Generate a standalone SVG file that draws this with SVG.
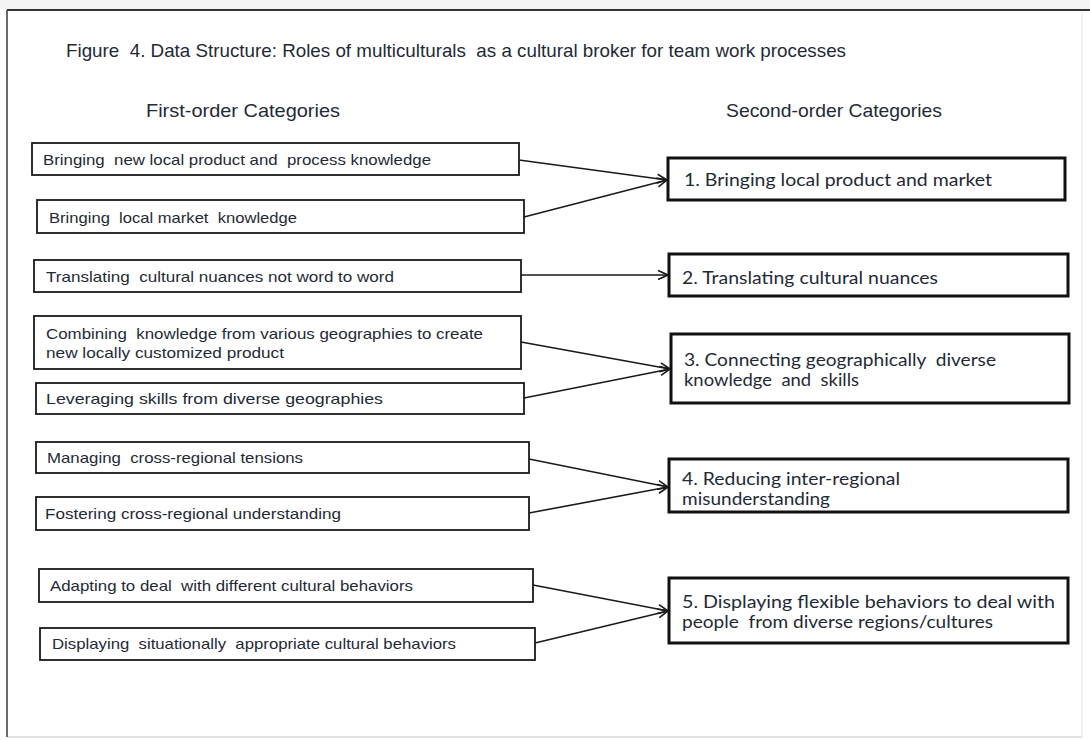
<svg xmlns="http://www.w3.org/2000/svg" width="1090" height="740" viewBox="0 0 1090 740">
<style>
.ttl{font-family:"Liberation Sans",Arial,sans-serif;font-size:19px;fill:#1f2a36;white-space:pre}
.lt{font-family:"Liberation Sans",Arial,sans-serif;font-size:15px;fill:#1f2a36;white-space:pre}
.rt{font-family:Lato,"Liberation Sans",sans-serif;font-size:16.5px;fill:#1f2a36;white-space:pre}
.lb{fill:#fff;stroke:#1a1a1a;stroke-width:1.8}
.rb{fill:#fff;stroke:#111;stroke-width:3}
.cn{fill:none;stroke:#1a1a1a;stroke-width:1.6}
</style>
<defs>
<marker id="ah" markerUnits="userSpaceOnUse" markerWidth="12" markerHeight="12" viewBox="0 0 12 12" refX="11" refY="6" orient="auto">
<path d="M1,1.5 L11,6 L1,10.5" fill="none" stroke="#1a1a1a" stroke-width="1.6"/>
</marker>
</defs>
<rect x="0" y="0" width="1090" height="740" fill="#fff"/>
<rect x="0" y="0" width="1090" height="9" fill="#f3f3f3"/>
<g id="frame">
<line x1="1082" y1="11" x2="1082" y2="737" stroke="#eeeeee" stroke-width="1.5"/>
<line x1="7" y1="737" x2="1082" y2="737" stroke="#e4e4e4" stroke-width="2"/>
<line x1="7" y1="10" x2="1090" y2="10" stroke="#333" stroke-width="2"/>
<line x1="7" y1="10" x2="7" y2="737" stroke="#444" stroke-width="1.6"/>
</g>
<g id="title">
<text class="ttl" x="66" y="57" textLength="780" lengthAdjust="spacingAndGlyphs">Figure  4. Data Structure: Roles of multiculturals  as a cultural broker for team work processes</text>
<text class="ttl" x="146" y="117" textLength="194" lengthAdjust="spacingAndGlyphs">First-order Categories</text>
<text class="ttl" x="726" y="117" textLength="216" lengthAdjust="spacingAndGlyphs">Second-order Categories</text>
</g>
<g id="connectors">
<line class="cn" x1="519" y1="160" x2="667" y2="180" marker-end="url(#ah)"/>
<line class="cn" x1="524" y1="217" x2="667" y2="180" marker-end="url(#ah)"/>
<line class="cn" x1="521" y1="275" x2="668" y2="275" marker-end="url(#ah)"/>
<line class="cn" x1="521" y1="342" x2="670" y2="369" marker-end="url(#ah)"/>
<line class="cn" x1="524" y1="398" x2="670" y2="369" marker-end="url(#ah)"/>
<line class="cn" x1="529" y1="459" x2="668" y2="487" marker-end="url(#ah)"/>
<line class="cn" x1="529" y1="513" x2="668" y2="487" marker-end="url(#ah)"/>
<line class="cn" x1="533" y1="585" x2="668" y2="611" marker-end="url(#ah)"/>
<line class="cn" x1="535" y1="643" x2="668" y2="611" marker-end="url(#ah)"/>
</g>
<g id="f1"><rect class="lb" x="32" y="143" width="487" height="32"/><text class="lt" x="43" y="165" textLength="388" lengthAdjust="spacingAndGlyphs">Bringing  new local product and  process knowledge</text></g>
<g id="f2"><rect class="lb" x="37" y="200" width="487" height="33"/><text class="lt" x="49" y="223" textLength="248" lengthAdjust="spacingAndGlyphs">Bringing  local market  knowledge</text></g>
<g id="f3"><rect class="lb" x="34" y="260" width="487" height="32"/><text class="lt" x="46" y="282" textLength="348" lengthAdjust="spacingAndGlyphs">Translating  cultural nuances not word to word</text></g>
<g id="f4"><rect class="lb" x="34" y="316" width="487" height="53"/><text class="lt" x="46" y="339" textLength="437" lengthAdjust="spacingAndGlyphs">Combining  knowledge from various geographies to create</text><text class="lt" x="46" y="358" textLength="238" lengthAdjust="spacingAndGlyphs">new locally customized product</text></g>
<g id="f5"><rect class="lb" x="36" y="383" width="488" height="31"/><text class="lt" x="46" y="404" textLength="337" lengthAdjust="spacingAndGlyphs">Leveraging skills from diverse geographies</text></g>
<g id="f6"><rect class="lb" x="36" y="442" width="493" height="31"/><text class="lt" x="47" y="463" textLength="256" lengthAdjust="spacingAndGlyphs">Managing  cross-regional tensions</text></g>
<g id="f7"><rect class="lb" x="36" y="497" width="493" height="33"/><text class="lt" x="45" y="519" textLength="296" lengthAdjust="spacingAndGlyphs">Fostering cross-regional understanding</text></g>
<g id="f8"><rect class="lb" x="39" y="569" width="494" height="33"/><text class="lt" x="50" y="591" textLength="363" lengthAdjust="spacingAndGlyphs">Adapting to deal  with different cultural behaviors</text></g>
<g id="f9"><rect class="lb" x="40" y="628" width="495" height="32"/><text class="lt" x="52" y="649" textLength="404" lengthAdjust="spacingAndGlyphs">Displaying  situationally  appropriate cultural behaviors</text></g>
<g id="s1"><rect class="rb" x="668" y="158" width="397" height="42"/><text class="rt" x="684" y="186" textLength="308" lengthAdjust="spacingAndGlyphs">1. Bringing local product and market</text></g>
<g id="s2"><rect class="rb" x="669" y="254" width="399" height="42"/><text class="rt" x="682" y="284" textLength="256" lengthAdjust="spacingAndGlyphs">2. Translating cultural nuances</text></g>
<g id="s3"><rect class="rb" x="671" y="334" width="398" height="69"/><text class="rt" x="684" y="366" textLength="312" lengthAdjust="spacingAndGlyphs">3. Connecting geographically  diverse</text><text class="rt" x="684" y="386" textLength="175" lengthAdjust="spacingAndGlyphs">knowledge  and  skills</text></g>
<g id="s4"><rect class="rb" x="669" y="459" width="399" height="53"/><text class="rt" x="682" y="485" textLength="218" lengthAdjust="spacingAndGlyphs">4. Reducing inter-regional</text><text class="rt" x="682" y="505" textLength="148" lengthAdjust="spacingAndGlyphs">misunderstanding</text></g>
<g id="s5"><rect class="rb" x="669" y="578" width="399" height="65"/><text class="rt" x="682" y="608" textLength="373" lengthAdjust="spacingAndGlyphs">5. Displaying flexible behaviors to deal with</text><text class="rt" x="682" y="628" textLength="311" lengthAdjust="spacingAndGlyphs">people  from diverse regions/cultures</text></g>
</svg>
